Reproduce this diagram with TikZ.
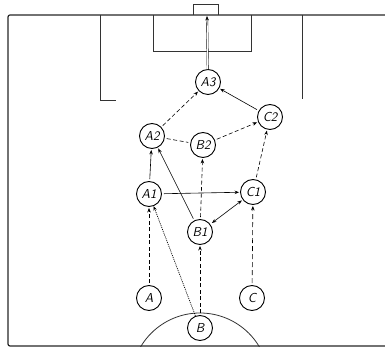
\documentclass[tikz,border=0pt]{standalone}
\usetikzlibrary{arrows.meta}
\begin{document}
\begin{tikzpicture}[x=1pt,y=-1pt,
  player/.style={circle,draw,line width=0.9pt,minimum size=25pt,inner sep=0pt,font=\fontsize{13}{13}\selectfont\sffamily\itshape},
  field/.style={line width=1.2pt,black!85},
  fieldmark/.style={line width=0.8pt,black!80},
  tip/.style={-{Stealth[length=4.5pt,width=3.5pt]}},
  run/.style={tip,line width=0.6pt,dash pattern=on 4pt off 2.5pt,shorten <=2pt,shorten >=1pt},
  pass/.style={tip,line width=0.6pt,shorten <=2pt,shorten >=1pt},
  dotpass/.style={tip,line width=0.7pt,dash pattern=on 1pt off 1pt}]
\useasboundingbox (0,0) rectangle (385,347);
% field
\draw[field,rounded corners=2pt] (385,15) -- (8,15) -- (8,346) -- (385,346);
\draw[fieldmark] (193,15) -- (193,4) -- (218,4) -- (218,15);
\draw[fieldmark] (153,15) -- (153,51) -- (251,51) -- (251,15);
\draw[fieldmark] (100,15) -- (100,100) -- (116,100);
\draw[fieldmark] (302,15) -- (302,99);
\begin{scope}
\clip (0,0) rectangle (385,346);
\draw[fieldmark] (200,382) circle (69);
\end{scope}
% players
\node[player] (A3) at (208,82) {A3};
\node[player] (A2) at (152,136) {A2};
\node[player] (B2) at (203,145) {B2};
\node[player] (C2) at (270,117) {C2};
\node[player] (A1) at (149,194) {A1};
\node[player] (C1) at (253,192) {C1};
\node[player] (B1) at (200,232) {B1};
\node[player] (A) at (149,298) {A};
\node[player] (C) at (252,298) {C};
\node[player] (B) at (200,328) {B};
\coordinate (goal) at (207,16);
% moves
\draw[tip,line width=0.4pt,double,double distance=1.2pt] (A3) -- (goal);
\draw[run] (A2) -- (A3);
\draw[pass] (C2) -- (A3);
\draw[line width=0.6pt,dash pattern=on 4pt off 2.5pt,shorten <=2pt,shorten >=2pt] (A2) -- (B2);
\draw[run] (B2) -- (C2);
\draw[run] (C1) -- (C2);
\draw[pass] (A1) -- (A2);
\draw[pass] (B1) -- (A2);
\draw[run] (B1) -- (B2);
\draw[pass] (A1) -- (C1);
\draw[pass,{Stealth[length=4.5pt,width=3.5pt]}-{Stealth[length=4.5pt,width=3.5pt]}] (B1) -- (C1);
\draw[run] (A) -- (A1);
\draw[dotpass] (B) -- (A1);
\draw[run] (B) -- (B1);
\draw[run,dash pattern=on 5pt off 3pt] (C) -- (C1);
\end{tikzpicture}
\end{document}
